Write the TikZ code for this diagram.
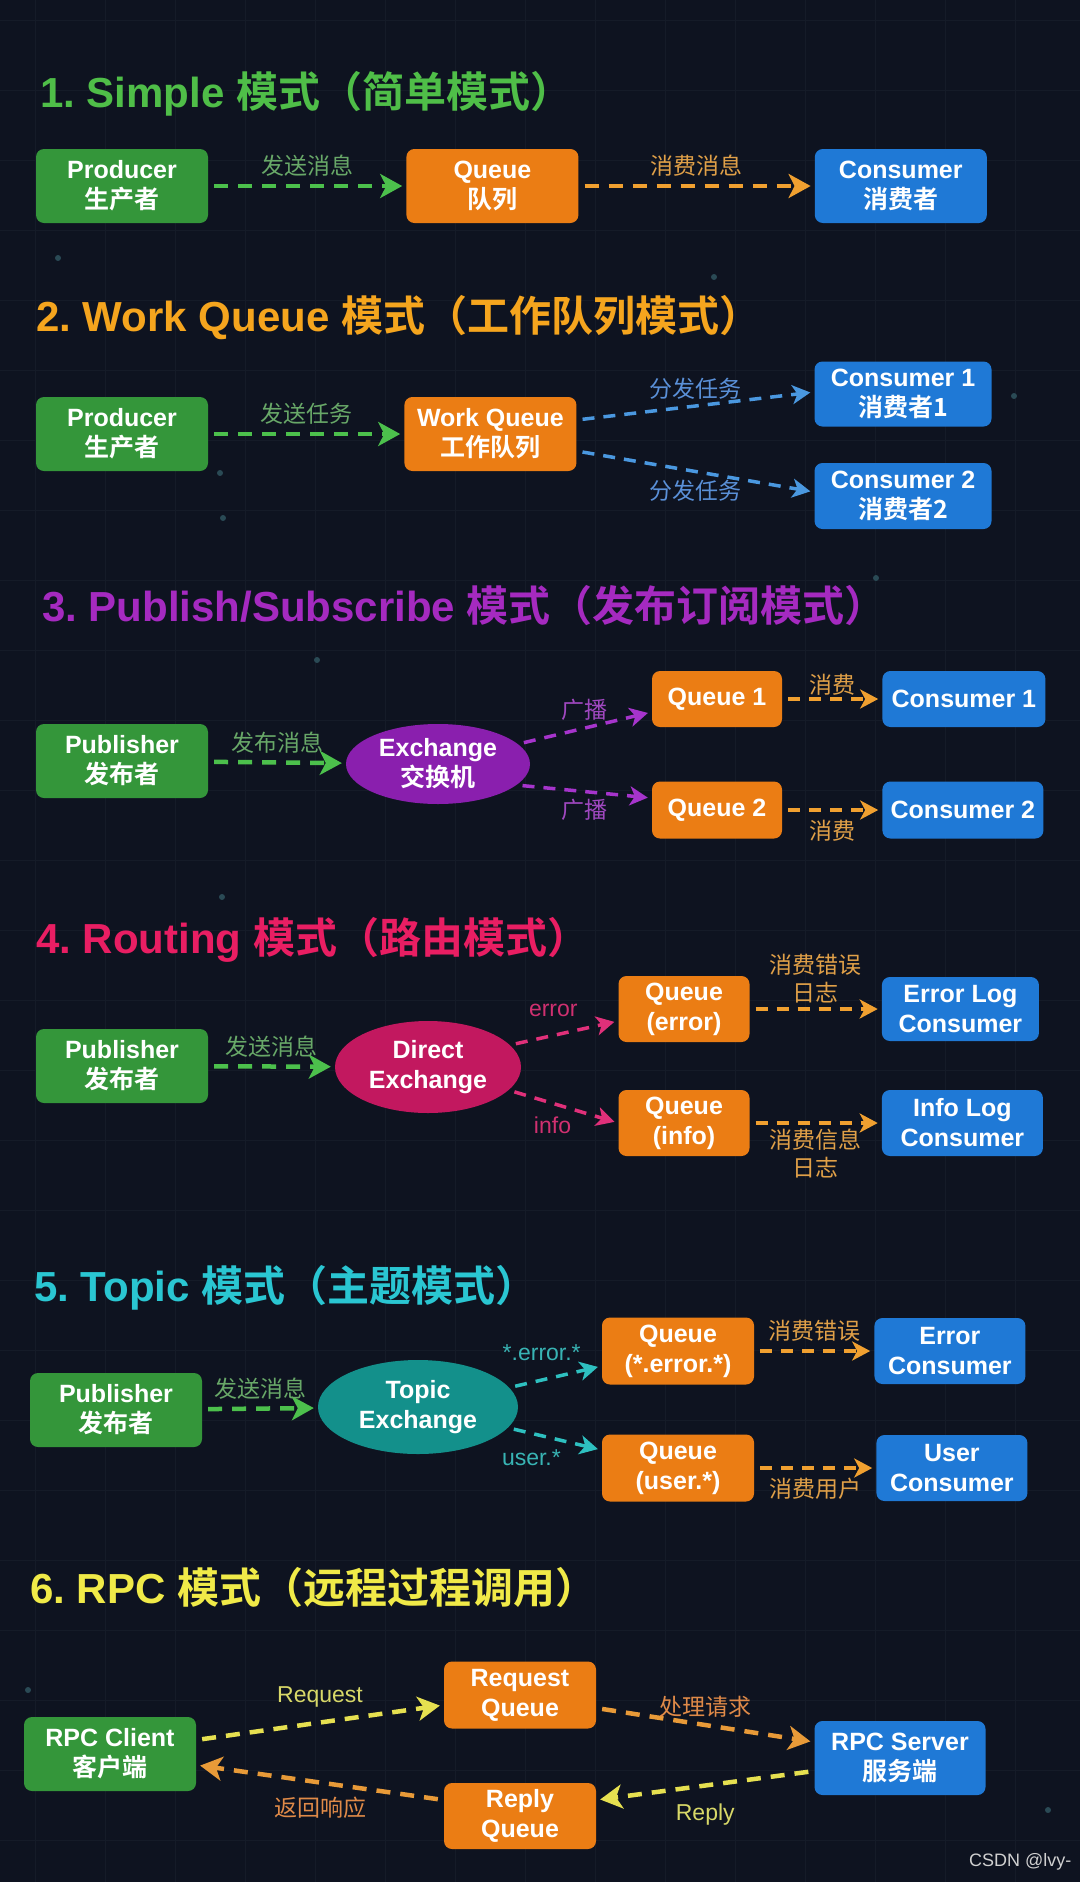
\documentclass[tikz,border=0pt]{standalone}
\usepackage{fontspec}
\setmainfont{Liberation Sans}
\newfontfamily\zh{Noto Sans CJK SC}[BoldFont={* Bold}]
\usetikzlibrary{positioning,arrows.meta,shapes.geometric}
\frenchspacing
\definecolor{bgnavy}{HTML}{0E1320}
\definecolor{gridline}{HTML}{151B28}
\definecolor{stardot}{HTML}{2A4A55}
\definecolor{boxgreen}{HTML}{34963A}
\definecolor{boxorange}{HTML}{EB7D14}
\definecolor{boxblue}{HTML}{1F79D6}
\definecolor{exchpurple}{HTML}{8A1FAE}
\definecolor{exchpink}{HTML}{C2185F}
\definecolor{exchteal}{HTML}{13908B}
\definecolor{tgreen}{HTML}{4FBE48}
\definecolor{torange}{HTML}{F5A51E}
\definecolor{tpurple}{HTML}{A52AC0}
\definecolor{tpink}{HTML}{E91E63}
\definecolor{tcyan}{HTML}{2AC6D2}
\definecolor{tyellow}{HTML}{F0EA48}
\definecolor{agreen}{HTML}{4CC04C}
\definecolor{aorange}{HTML}{F0A030}
\definecolor{arpc}{HTML}{E89A38}
\definecolor{ablue}{HTML}{4A98E0}
\definecolor{apurple}{HTML}{A634CC}
\definecolor{apink}{HTML}{E0307A}
\definecolor{ateal}{HTML}{2EC0C0}
\definecolor{ayellow}{HTML}{E6E050}
\definecolor{lgreen}{HTML}{68A868}
\definecolor{lorange}{HTML}{E0A048}
\definecolor{lblue}{HTML}{5A90D8}
\definecolor{lpurple}{HTML}{A048C0}
\definecolor{lpink}{HTML}{D03070}
\definecolor{lteal}{HTML}{38B4B4}
\definecolor{lyellow}{HTML}{D8D868}
\definecolor{lrpc}{HTML}{E08A48}
\definecolor{markgray}{HTML}{D0D0D0}
\newcommand{\fsz}[2]{\fontsize{#1}{#2}\selectfont}
\tikzset{
  box/.style  ={rounded corners=8pt, minimum width=172pt, minimum height=74pt,
                align=center, text=white, font=\bfseries\fsz{25}{30}, inner sep=2pt},
  prod/.style ={box, fill=boxgreen},
  que/.style  ={box, fill=boxorange},
  cons/.style ={box, fill=boxblue},
  exch/.style ={ellipse, inner sep=0pt, align=center, text=white,
                font=\bfseries\fsz{25}{30}},
  ttl/.style  ={anchor=west, inner sep=0pt, font=\bfseries\fsz{42}{48}},
  fl/.style   ={line width=4.5pt, dash pattern=on 14pt off 10pt,
                -{Stealth[length=22pt,width=24pt,inset=6pt]},
                shorten <=6pt, shorten >=4pt},
  slim/.style ={line width=3.5pt, dash pattern=on 12pt off 9pt,
                -{Stealth[length=18pt,width=19pt,inset=5pt]}},
  lbl/.style  ={font=\fsz{23}{28}, inner sep=1pt, align=center},
  zl/.style   ={lbl, font=\zh\fsz{23}{28}},
}

\begin{document}
\begin{tikzpicture}[x=1pt, y=-1pt]
  % backdrop
  \fill[bgnavy] (0,0) rectangle (1080,1882);
  \useasboundingbox (0,0) rectangle (1080,1882);
  \foreach \gx in {35,105,...,1080} \draw[gridline, line width=1pt] (\gx,0) -- (\gx,1882);
  \foreach \gy in {20,90,...,1882} \draw[gridline, line width=1pt] (0,\gy) -- (1080,\gy);
  \foreach \dx/\dy in {58/258, 714/277, 220/473, 223/518, 1014/396, 317/660,
                       876/578, 222/897, 1048/1810, 28/1690}
    \fill[stardot] (\dx,\dy) circle (3pt);

  % 1. Simple
  \node[ttl, text=tgreen] (t1) at (40,94) {1. Simple {\zh 模式（简单模式）}};
  \node[prod] (p1) at (122,186) {Producer\\\zh 生产者};
  \node[que, right=198pt of p1] (q1) {Queue\\\zh 队列};
  \node[cons, right=236pt of q1] (c1) {Consumer\\\zh 消费者};
  \draw[fl, agreen] (p1) -- node[zl, above=6pt, text=lgreen] {发送消息} (q1);
  \draw[fl, aorange] (q1) -- node[zl, above=6pt, text=lorange] {消费消息} (c1);

  % 2. Work Queue
  \node[ttl, text=torange] (t2) at (36,318) {2. Work Queue {\zh 模式（工作队列模式）}};
  \node[prod] (p2) at (122,434) {Producer\\\zh 生产者};
  \node[que, right=196pt of p2] (q2) {Work Queue\\\zh 工作队列};
  \node[cons, minimum width=177pt, minimum height=65pt] (c21) at (903,394) {Consumer 1\\\zh 消费者1};
  \node[cons, minimum width=177pt, minimum height=66pt] (c22) at (903,496) {Consumer 2\\\zh 消费者2};
  \draw[fl, agreen] (p2) -- node[zl, above=6pt, text=lgreen] {发送任务} (q2);
  \draw[fl, slim, ablue] ([yshift=14pt]q2.east) -- node[zl, above=4pt, text=lblue] {分发任务} ([yshift=2pt]c21.west);
  \draw[fl, slim, ablue] ([yshift=-17pt]q2.east) -- node[zl, below=6pt, text=lblue] {分发任务} ([yshift=4pt]c22.west);

  % 3. Publish/Subscribe
  \node[ttl, text=tpurple] (t3) at (42,606) {3. Publish/Subscribe {\zh 模式（发布订阅模式）}};
  \node[prod] (p3) at (122,761) {Publisher\\\zh 发布者};
  \node[exch, fill=exchpurple, minimum width=184pt, minimum height=80pt] (x3) at (438,764) {Exchange\\\zh 交换机};
  \node[que, minimum width=130pt, minimum height=56pt] (q31) at (717,699) {Queue 1};
  \node[que, minimum width=130pt, minimum height=57pt] (q32) at (717,810) {Queue 2};
  \node[cons, minimum width=163pt, minimum height=56pt, right=100pt of q31] (c31) {Consumer 1};
  \node[cons, minimum width=161pt, minimum height=57pt, right=100pt of q32] (c32) {Consumer 2};
  \draw[fl, agreen] (p3) -- node[zl, above=6pt, text=lgreen] {发布消息} (x3);
  \draw[fl, slim, apurple] (x3.14) -- node[zl, above=5pt, text=lpurple] {广播} ([yshift=-13pt]q31.west);
  \draw[fl, slim, apurple] (x3.-15) -- node[zl, below=5pt, text=lpurple] {广播} ([yshift=12pt]q32.west);
  \draw[fl, slim, aorange] (q31) -- node[zl, above=1pt, text=lorange] {消费} (c31);
  \draw[fl, slim, aorange] (q32) -- node[zl, below=7pt, text=lorange] {消费} (c32);

  % 4. Routing
  \node[ttl, text=tpink] (t4) at (36,940) {4. Routing {\zh 模式（路由模式）}};
  \node[prod] (p4) at (122,1066) {Publisher\\\zh 发布者};
  \node[exch, fill=exchpink, minimum width=186pt, minimum height=92pt] (x4) at (428,1067) {Direct\\Exchange};
  \node[que, minimum width=131pt, minimum height=66pt] (q4e) at (684,1009) {Queue\\(error)};
  \node[que, minimum width=131pt, minimum height=66pt] (q4i) at (684,1123) {Queue\\(info)};
  \node[cons, minimum width=157pt, minimum height=64pt, right=132pt of q4e] (c4e) {Error Log\\Consumer};
  \node[cons, minimum width=161pt, minimum height=66pt, right=132pt of q4i] (c4i) {Info Log\\Consumer};
  \draw[fl, agreen] (p4) -- node[zl, above=6pt, text=lgreen] {发送消息} (x4);
  \draw[fl, slim, apink] (x4.15) -- node[lbl, pos=0.4, above=16pt, text=lpink] {error} ([yshift=-12pt]q4e.west);
  \draw[fl, slim, apink] (x4.-16) -- node[lbl, pos=0.4, below=11pt, text=lpink] {info} (q4i.west);
  \draw[fl, slim, aorange] (q4e) -- node[zl, above=3pt, text=lorange] {消费错误\\日志} (c4e);
  \draw[fl, slim, aorange] (q4i) -- node[zl, below=3pt, text=lorange] {消费信息\\日志} (c4i);

  % 5. Topic
  \node[ttl, text=tcyan] (t5) at (34,1288) {5. Topic {\zh 模式（主题模式）}};
  \node[prod] (p5) at (116,1410) {Publisher\\\zh 发布者};
  \node[exch, fill=exchteal, minimum width=200pt, minimum height=94pt] (x5) at (418,1407) {Topic\\Exchange};
  \node[que, minimum width=152pt, minimum height=67pt] (q5e) at (678,1351) {Queue\\(*.error.*)};
  \node[que, minimum width=152pt, minimum height=67pt] (q5u) at (678,1468) {Queue\\(user.*)};
  \node[cons, minimum width=151pt, minimum height=66pt, right=120pt of q5e] (c5e) {Error\\Consumer};
  \node[cons, minimum width=151pt, minimum height=66pt, right=122pt of q5u] (c5u) {User\\Consumer};
  \draw[fl, agreen] (p5) -- node[zl, above=6pt, text=lgreen] {发送消息} (x5);
  \draw[fl, slim, ateal] (x5.12) -- node[lbl, pos=0.35, above=17pt, text=lteal] {*.error.*} ([yshift=-15pt]q5e.west);
  \draw[fl, slim, ateal] (x5.-13) -- node[lbl, pos=0.25, below=14pt, text=lteal] {user.*} ([yshift=18pt]q5u.west);
  \draw[fl, slim, aorange] (q5e) -- node[zl, above=7pt, text=lorange] {消费错误} (c5e);
  \draw[fl, slim, aorange] (q5u) -- node[zl, below=7pt, text=lorange] {消费用户} (c5u);

  % 6. RPC
  \node[ttl, text=tyellow] (t6) at (30,1588) {6. RPC {\zh 模式（远程过程调用）}};
  \node[prod] (rc) at (110,1754) {RPC Client\\\zh 客户端};
  \node[que, minimum width=152pt, minimum height=67pt] (rq) at (520,1695) {Request\\Queue};
  \node[que, minimum width=152pt, minimum height=66pt] (rp) at (520,1816) {Reply\\Queue};
  \node[cons, minimum width=171pt] (rs) at (900,1758) {RPC Server\\\zh 服务端};
  \draw[fl, ayellow] ([yshift=14pt]rc.east) -- node[lbl, above=12pt, text=lyellow] {Request} ([yshift=-10pt]rq.west);
  \draw[fl, arpc] ([yshift=-13pt]rq.east) -- node[zl, above=4pt, text=lrpc] {处理请求} ([yshift=16pt]rs.west);
  \draw[fl, ayellow] ([yshift=-13pt]rs.west) -- node[lbl, below=15pt, text=lyellow] {Reply} ([yshift=16pt]rp.east);
  \draw[fl, arpc] ([yshift=16pt]rp.west) -- node[zl, below=11pt, text=lrpc] {返回响应} ([yshift=-11pt]rc.east);

  \node[anchor=east, font=\fsz{18}{22}, text=markgray] (mark) at (1075,1862) {CSDN @lvy-};
\end{tikzpicture}
\end{document}
